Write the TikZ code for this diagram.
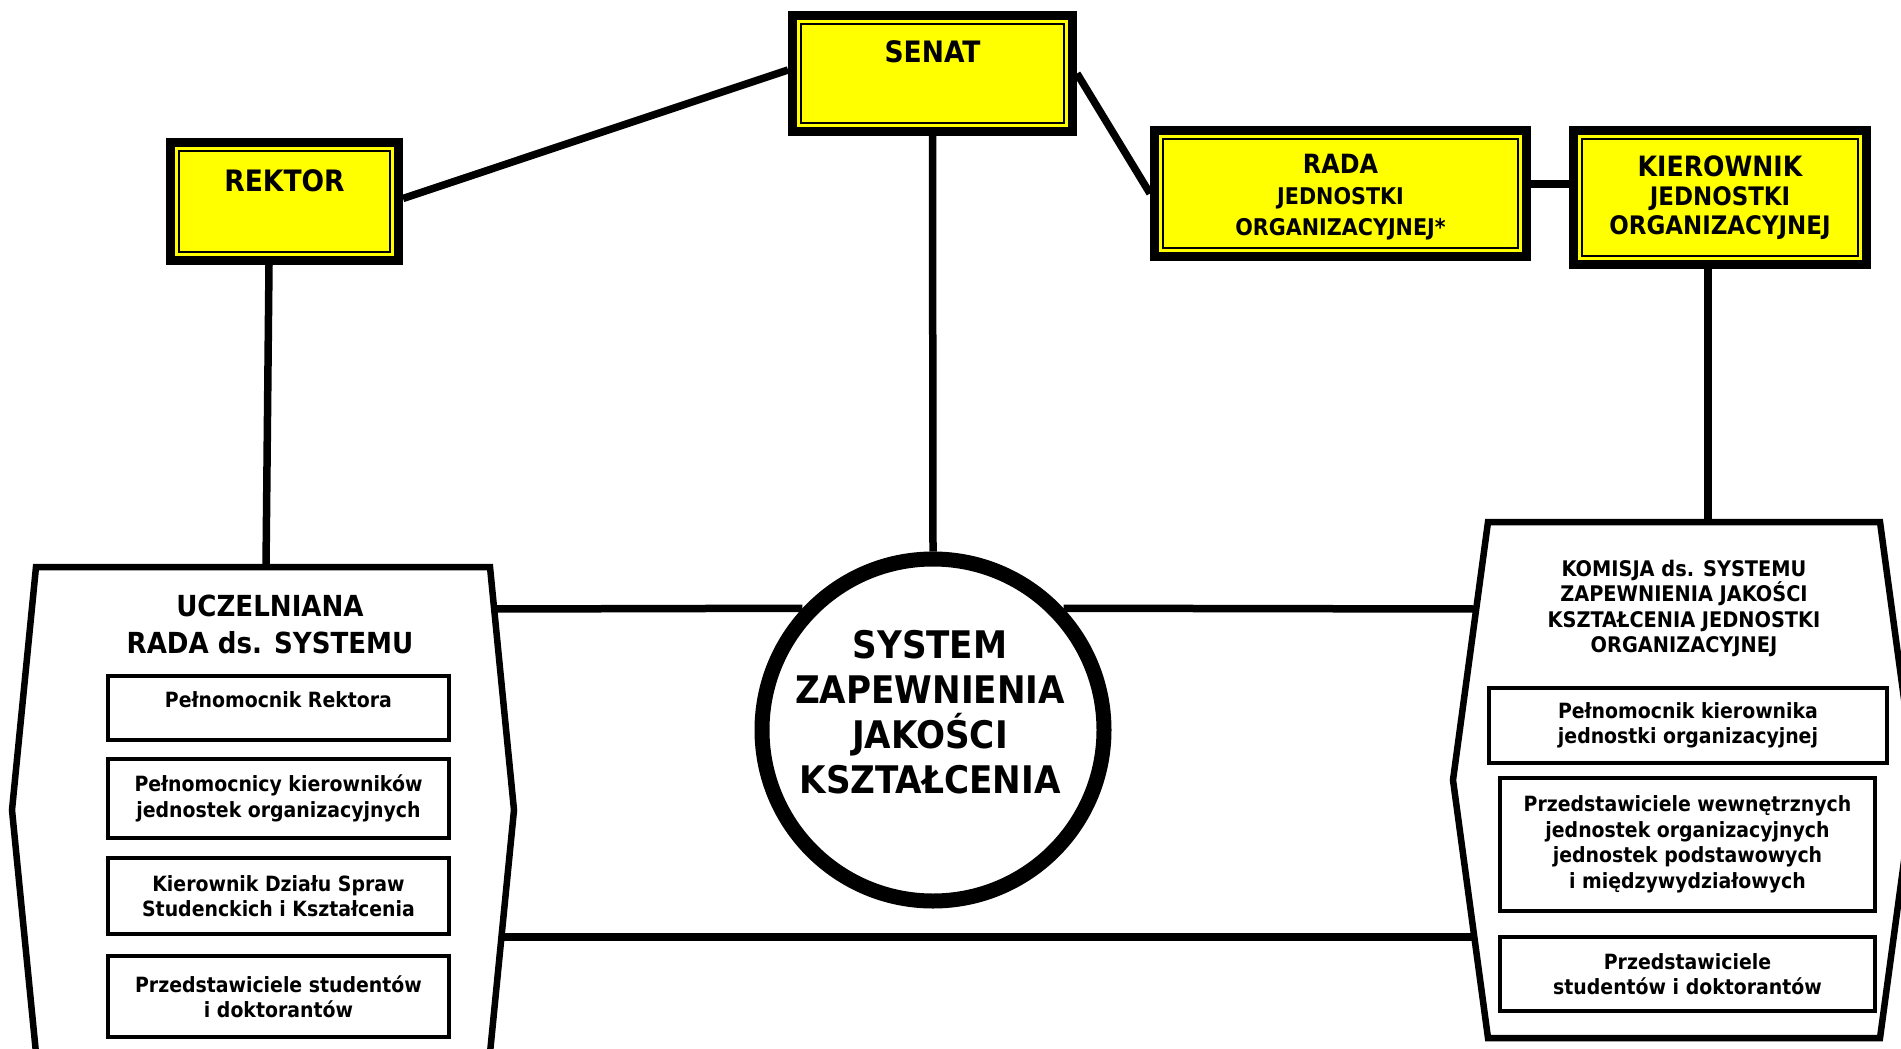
\documentclass[tikz,border=0pt]{standalone}
\usepackage{fontspec}
\setmainfont{DejaVu Sans Condensed}[BoldFont={DejaVu Sans Condensed Bold}]
\definecolor{zolty}{RGB}{255,255,0}

\begin{document}
\begin{tikzpicture}[x=1pt, y=-1pt, line join=miter,
  ybox/.style={draw, line width=9pt, fill=zolty, inner sep=0pt},
  yinner/.style={line width=2.6pt},
  ytitle/.style={font=\bfseries\fontsize{29.5}{34}\selectfont, inner sep=0pt},
  hexa/.style={line width=6.5pt},
  conn/.style={line width=7.5pt},
  pbox/.style={draw, line width=4pt, fill=white, inner sep=0pt, align=center,
    font=\bfseries\fontsize{21}{25.5}\selectfont}]
  \useasboundingbox (0,0) rectangle (1901,1049);

  % ramki zolte
  \node[ybox, minimum width=280pt, minimum height=116pt] (senat) at (932.5,73.5) {};
  \node[ybox, minimum width=228pt, minimum height=118pt] (rektor) at (284.5,201.5) {};
  \node[ybox, minimum width=372pt, minimum height=126pt] (rada) at (1340.5,193.5) {};
  \node[ybox, minimum width=293pt, minimum height=134pt] (kier) at (1720,197.5) {};
  \foreach \b in {senat,rektor,rada,kier}
    \draw[yinner] ([shift={(13,13)}]\b.north west) rectangle ([shift={(-13,-13)}]\b.south east);

  \node[ytitle] (senatT) at ([yshift=21.5pt]senat.center) {SENAT};
  \node[ytitle] (rektorT) at ([yshift=20.5pt]rektor.center) {REKTOR};
  \node[ytitle, align=center, font=\bfseries\fontsize{23}{31}\selectfont] (radaT)
    at ([yshift=-3.5pt]rada.center) {{\fontsize{26.5}{31}\selectfont RADA}\\JEDNOSTKI\\ORGANIZACYJNEJ*};
  \node[ytitle, align=center, font=\bfseries\fontsize{25.5}{29}\selectfont] (kierT)
    at (kier.center) {{\fontsize{28}{29}\selectfont KIEROWNIK}\\JEDNOSTKI\\ORGANIZACYJNEJ};

  % szesciokaty
  \draw[hexa] (36,567) -- (490,567) -- (514,810) -- (490,1053) -- (36,1053) -- (12,810) -- cycle;
  \draw[hexa] (1488,522) -- (1880,522) -- (1915,780) -- (1880,1038) -- (1488,1038) -- (1453,780) -- cycle;
  \coordinate (uczTop) at (266,567);
  \coordinate (uczUp) at (494,609);
  \coordinate (uczDn) at (501,937);
  \coordinate (komTop) at (1708,522);
  \coordinate (komUp) at (1476,609);
  \coordinate (komDn) at (1474,937);

  \node[align=center, font=\bfseries\fontsize{29}{37}\selectfont] (uczT) at (270,624.5)
    {UCZELNIANA\\RADA ds. SYSTEMU};
  \node[align=center, font=\bfseries\fontsize{21.5}{25.6}\selectfont] (komT) at (1684,608.5)
    {KOMISJA ds. SYSTEMU\\ZAPEWNIENIA JAKOŚCI\\KSZTAŁCENIA JEDNOSTKI\\ORGANIZACYJNEJ};

  % sklad rady
  \node[pbox, minimum width=341pt, minimum height=64pt, text depth=16pt] (pelRek) at (278.5,708)
    {Pełnomocnik Rektora};
  \node[pbox, minimum width=341pt, minimum height=79pt] (pelKier) at (278.5,798.5)
    {Pełnomocnicy kierowników\\jednostek organizacyjnych};
  \node[pbox, minimum width=341pt, minimum height=76pt] (kierDz) at (278.5,896)
    {Kierownik Działu Spraw\\Studenckich i Kształcenia};
  \node[pbox, minimum width=341pt, minimum height=81pt] (przedL) at (278.5,996.5)
    {Przedstawiciele studentów\\i doktorantów};

  % sklad komisji
  \node[pbox, minimum width=398pt, minimum height=75pt] (pelKJ) at (1688,725.5)
    {Pełnomocnik kierownika\\jednostki organizacyjnej};
  \node[pbox, minimum width=375pt, minimum height=133pt] (przedW) at (1687.5,844.5)
    {Przedstawiciele wewnętrznych\\jednostek organizacyjnych\\jednostek podstawowych\\i międzywydziałowych};
  \node[pbox, minimum width=375pt, minimum height=74pt] (przedR) at (1687.5,974)
    {Przedstawiciele\\studentów i doktorantów};

  % kolo
  \node[circle, draw, line width=15pt, fill=white, minimum size=342pt, inner sep=0pt] (sys) at (933,730) {};
  \node[align=center, font=\bfseries\fontsize{38}{45}\selectfont] (sysT) at (930,712.5)
    {SYSTEM\\ZAPEWNIENIA\\JAKOŚCI\\KSZTAŁCENIA};

  % polaczenia
  \draw[conn] ([yshift=3pt]rektor.east) -- ([yshift=3.5pt]senat.west);
  \draw[conn] (senat.east) -- (rada.west);
  \coordinate (radaR) at ([yshift=9.5pt]rada.east);
  \draw[conn] (radaR) -- (radaR -| kier.west);
  \draw[conn] (senat.south) -- (sys.north);
  \draw[conn] ([xshift=-15.5pt]rektor.south) -- (uczTop);
  \draw[conn] ([xshift=-12pt]kier.south) -- (komTop);
  \draw[conn] (uczUp) -- (sys.137);
  \draw[conn] (sys.43) -- (komUp);
  \draw[conn] (uczDn) -- (komDn);
\end{tikzpicture}
\end{document}
